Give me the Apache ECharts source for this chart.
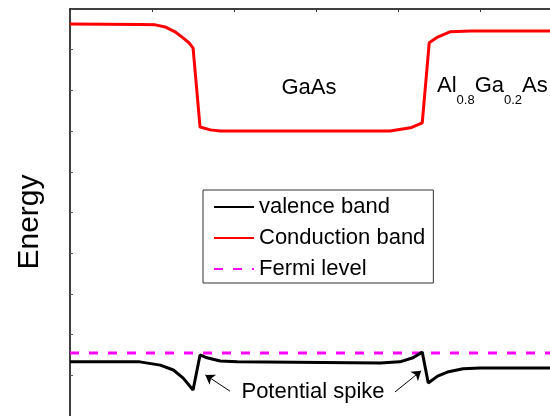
<!DOCTYPE html>
<html><head><meta charset="utf-8">
<script src="https://cdn.jsdelivr.net/npm/echarts@6/dist/echarts.min.js"></script>
<style>html,body{margin:0;padding:0;background:#fff}#c{width:550px;height:416px}</style>
</head><body><div id="c"></div>
<script>
// Series names
const seriesNames = ['valence band', 'Conduction band', 'Fermi level'];
// Valence band (position, energy) in arbitrary units
const valenceX = [0, 0.85, 1.10, 1.26, 1.38, 1.50, 1.585, 1.67, 1.83, 2.04, 3.78, 4.02, 4.18, 4.293, 4.366, 4.48, 4.60, 4.79, 5.00, 5.85];
const valenceY = [1.33, 1.33, 1.25, 1.13, 0.93, 0.64, 1.50, 1.43, 1.35, 1.33, 1.30, 1.33, 1.43, 1.57, 0.81, 0.98, 1.08, 1.16, 1.18, 1.18];
// Conduction band
const conductionX = [0, 0.85, 1.04, 1.16, 1.28, 1.378, 1.45, 1.50, 1.585, 1.71, 1.83, 3.90, 4.15, 4.293, 4.378, 4.48, 4.63, 4.88, 5.85];
const conductionY = [9.63, 9.62, 9.61, 9.56, 9.44, 9.29, 9.17, 9.04, 7.10, 7.03, 7.00, 7.00, 7.08, 7.20, 9.17, 9.31, 9.44, 9.46, 9.46];
// Fermi level
const fermiX = [0, 5.85];
const fermiY = [1.55, 1.55];
// Arrows for "Potential spike" annotation: [fromX, fromY, toX, toY]
const arrow1 = [1.95, 0.61, 1.65, 1.01];
const arrow2 = [3.96, 0.59, 4.28, 1.11];
// Axis ranges
const xMin = 0, xMax = 5.85, yMin = 0, yMax = 10;

const zip = (a, b) => a.map((v, i) => [v, b[i]]);
const FONT = 'Liberation Sans, Arial, sans-serif';

const chart = echarts.init(document.getElementById('c'), null, {renderer: 'canvas'});
chart.setOption({
  animation: false,
  backgroundColor: '#fff',
  grid: {left: 70, top: 9, right: 0, bottom: 0},
  xAxis: [
    {type: 'value', min: xMin, max: xMax, interval: 1, position: 'bottom',
     axisLine: {show: false}, axisTick: {show: false}, axisLabel: {show: false}, splitLine: {show: false}},
    {type: 'value', min: xMin, max: xMax, interval: 1, position: 'top',
     axisLine: {show: true, lineStyle: {color: '#000', width: 1.5}},
     axisTick: {show: true, inside: true, length: 3, lineStyle: {color: '#333'}}, axisLabel: {show: false}, splitLine: {show: false}}
  ],
  yAxis: {type: 'value', min: yMin, max: yMax, interval: 1,
    axisLine: {show: true, lineStyle: {color: '#000', width: 1.5}},
    axisTick: {show: true, inside: true, length: 3, lineStyle: {color: '#555'}}, axisLabel: {show: false}, splitLine: {show: false}},
  legend: {
    data: seriesNames, orient: 'vertical', left: 203, top: 190,
    padding: [6, 8, 3, 10], itemWidth: 40, itemHeight: 14, itemGap: 9,
    borderColor: '#333', borderWidth: 1, backgroundColor: '#fff',
    itemStyle: {opacity: 0},
    textStyle: {fontFamily: FONT, fontSize: 22, color: '#000', lineHeight: 22}
  },
  series: [
    {name: seriesNames[0], type: 'line', data: zip(valenceX, valenceY), symbol: 'none',
     lineStyle: {color: '#000', width: 3}, itemStyle: {color: '#000'}, z: 3,
     markLine: {silent: true, symbol: ['none', 'arrow'], symbolSize: 9,
       lineStyle: {color: '#000', width: 1, type: 'solid'}, label: {show: false},
       data: [
         [{coord: [arrow1[0], arrow1[1]]}, {coord: [arrow1[2], arrow1[3]]}],
         [{coord: [arrow2[0], arrow2[1]]}, {coord: [arrow2[2], arrow2[3]]}]
       ]}},
    {name: seriesNames[1], type: 'line', data: zip(conductionX, conductionY), symbol: 'none',
     lineStyle: {color: '#ff0000', width: 3}, itemStyle: {color: '#ff0000'}},
    {name: seriesNames[2], type: 'line', data: zip(fermiX, fermiY), symbol: 'none',
     lineStyle: {color: '#ff00ff', width: 3, type: [9, 10]}, itemStyle: {color: '#ff00ff'}, z: 1}
  ],
  graphic: [
    {type: 'text', x: 309, y: 88, style: {text: 'GaAs', font: '22px ' + FONT, fill: '#000', align: 'center', verticalAlign: 'middle'}},
    {type: 'text', x: 437, y: 86, style: {
      text: '{m|Al}{s|0.8}{m|Ga}{s|0.2}{m|As}', align: 'left', verticalAlign: 'middle',
      rich: {m: {fontFamily: FONT, fontSize: 22, lineHeight: 41, fill: '#000'},
             s: {fontFamily: FONT, fontSize: 13, verticalAlign: 'bottom', fill: '#000'}}}},
    {type: 'text', x: 313, y: 392, style: {text: 'Potential spike', font: '22px ' + FONT, fill: '#000', align: 'center', verticalAlign: 'middle'}},
    {type: 'text', x: 30, y: 222, rotation: Math.PI / 2, style: {text: 'Energy', font: '30px ' + FONT, fill: '#000', align: 'center', verticalAlign: 'middle'}}
  ]
});
</script></body></html>
